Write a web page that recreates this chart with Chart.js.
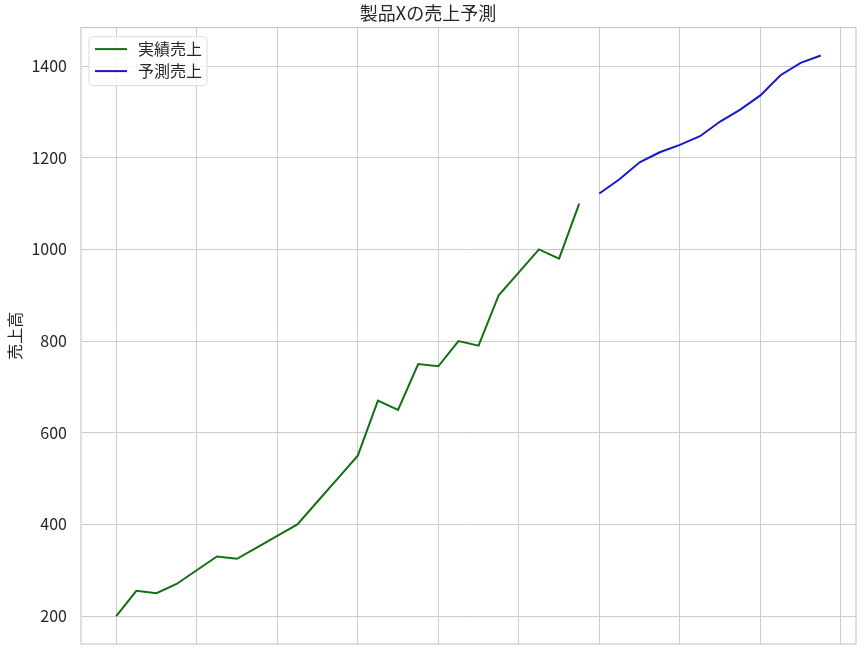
<!DOCTYPE html>
<html lang="ja">
<head>
<meta charset="utf-8">
<title>製品Xの売上予測</title>
<script src="https://cdn.jsdelivr.net/npm/chart.js@4.4.1/dist/chart.umd.min.js"></script>
<style>
  html, body { margin: 0; padding: 0; background: #fff; }
  #wrap { width: 866px; height: 651px; }
</style>
</head>
<body>
<div id="wrap"><canvas id="salesChart" width="866" height="651"></canvas></div>
<script>
const FONT = "'Noto Sans CJK JP', 'Noto Sans', sans-serif";

// 実績 (月次、24か月)
const actualSales = [200, 255, 250, 270, 300, 330, 325, 350, 375, 400, 450, 500,
  550, 670, 650, 750, 745, 800, 790, 900, 950, 1000, 980, 1100];
// 予測 (続く12か月)
const forecastSales = [1122, 1153, 1190, 1212, 1228, 1247, 1279, 1305, 1336, 1380, 1407, 1423];
const yTicks = [200, 400, 600, 800, 1000, 1200, 1400];
const xGridSteps = [0, 4, 8, 12, 16, 20, 24, 28, 32, 36];

const actualPoints = actualSales.map((v, i) => ({ x: i, y: v }));
const forecastPoints = forecastSales.map((v, i) => ({ x: actualSales.length + i, y: v }));

// 枠線と凡例 (matplotlib風)
const framePlugin = {
  id: "frame",
  afterDraw(chart) {
    const { ctx, chartArea: a } = chart;
    ctx.save();
    ctx.strokeStyle = "#cccccc";
    ctx.lineWidth = 1.25;
    ctx.strokeRect(a.left, a.top, a.right - a.left, a.bottom - a.top);

    // 凡例
    const x0 = a.left + 8, y0 = a.top + 9, w = 118, h = 49;
    ctx.beginPath();
    ctx.roundRect(x0, y0, w, h, 4);
    ctx.fillStyle = "rgba(255,255,255,0.8)";
    ctx.fill();
    ctx.strokeStyle = "#dddddd";
    ctx.lineWidth = 1;
    ctx.stroke();
    ctx.font = "16px " + FONT;
    ctx.textBaseline = "middle";
    chart.data.datasets.forEach((ds, i) => {
      const ly = y0 + 12.5 + i * 22;
      ctx.beginPath();
      ctx.moveTo(x0 + 6, ly);
      ctx.lineTo(x0 + 38, ly);
      ctx.strokeStyle = ds.borderColor;
      ctx.lineWidth = 2;
      ctx.stroke();
      ctx.fillStyle = "#262626";
      ctx.fillText(ds.label, x0 + 49, ly);
    });
    ctx.restore();
  }
};

new Chart(document.getElementById("salesChart"), {
  type: "line",
  data: {
    datasets: [
      {
        label: "実績売上",
        data: actualPoints,
        borderColor: "#127012",
        borderWidth: 2,
        pointRadius: 0,
        tension: 0,
      },
      {
        label: "予測売上",
        data: forecastPoints,
        borderColor: "#1818cc",
        borderWidth: 2,
        pointRadius: 0,
        tension: 0,
      },
    ],
  },
  options: {
    responsive: false,
    animation: false,
    devicePixelRatio: 1,
    layout: { padding: { top: 0, right: 10, bottom: 0, left: 0 } },
    plugins: {
      legend: { display: false },
      tooltip: { enabled: false },
      title: {
        display: true,
        text: "製品Xの売上予測",
        color: "#262626",
        font: { family: FONT, size: 18, weight: "normal" },
        padding: { top: 2, bottom: 4 },
      },
    },
    scales: {
      x: {
        type: "linear",
        min: -1.75,
        max: 36.75,
        afterBuildTicks: (scale) => {
          scale.ticks = xGridSteps.map((v) => ({ value: v }));
        },
        afterFit: (scale) => { scale.height = 7; },
        ticks: { display: false },
        grid: { color: "#cccccc", lineWidth: 1, drawTicks: false },
        border: { display: false },
      },
      y: {
        min: 139,
        max: 1484,
        afterBuildTicks: (scale) => {
          scale.ticks = yTicks.map((v) => ({ value: v }));
        },
        afterFit: (scale) => {
          scale.width = 81;
          scale.paddingTop = 0;
          scale.paddingBottom = 0;
        },
        ticks: {
          color: "#262626",
          padding: 14,
          font: { family: FONT, size: 16 },
          callback: (value) => String(value),
        },
        grid: { color: "#cccccc", lineWidth: 1, drawTicks: false },
        border: { display: false },
        title: {
          display: true,
          text: "売上高",
          color: "#262626",
          font: { family: FONT, size: 16 },
          padding: { top: 5, bottom: 0 },
        },
      },
    },
  },
  plugins: [framePlugin],
});
</script>
</body>
</html>
